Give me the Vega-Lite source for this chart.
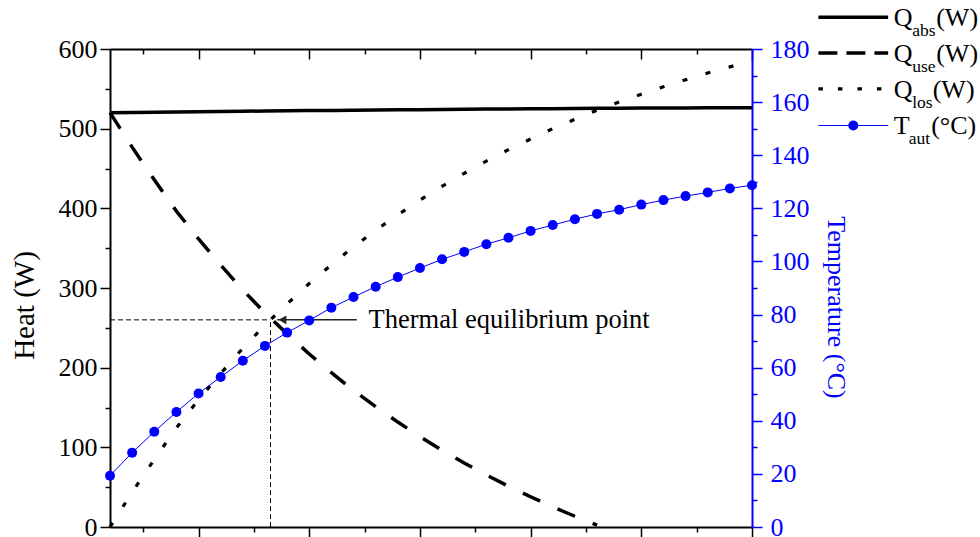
{
  "$schema": "https://vega.github.io/schema/vega-lite/v6.json",
  "width": 642,
  "height": 478,
  "autosize": {"type": "none"},
  "padding": {"left": 110, "top": 49, "right": 228, "bottom": 10},
  "background": "white",
  "config": {
    "font": "Liberation Serif",
    "view": {"stroke": null},
    "axis": {"grid": false}
  },
  "datasets": {
    "model": [
      {"x": 0.2, "Qabs": 520.1, "Quse": 520.1, "Qlos": 0.0, "T": 19.3},
      {"x": 0.4, "Qabs": 520.4, "Quse": 476.8, "Qlos": 43.6, "T": 28.0},
      {"x": 0.6, "Qabs": 520.7, "Quse": 435.9, "Qlos": 84.8, "T": 35.9},
      {"x": 0.8, "Qabs": 521.0, "Quse": 396.5, "Qlos": 124.5, "T": 43.3},
      {"x": 1.0, "Qabs": 521.3, "Quse": 361.5, "Qlos": 159.8, "T": 50.3},
      {"x": 1.2, "Qabs": 521.6, "Quse": 328.9, "Qlos": 192.7, "T": 56.5},
      {"x": 1.4, "Qabs": 521.9, "Quse": 297.5, "Qlos": 224.4, "T": 62.6},
      {"x": 1.6, "Qabs": 522.1, "Quse": 268.7, "Qlos": 253.4, "T": 68.2},
      {"x": 1.8, "Qabs": 522.4, "Quse": 242.4, "Qlos": 280.0, "T": 73.2},
      {"x": 2.0, "Qabs": 522.7, "Quse": 217.1, "Qlos": 305.6, "T": 77.8},
      {"x": 2.2, "Qabs": 522.9, "Quse": 193.7, "Qlos": 329.2, "T": 82.6},
      {"x": 2.4, "Qabs": 523.2, "Quse": 171.5, "Qlos": 351.7, "T": 86.6},
      {"x": 2.6, "Qabs": 523.4, "Quse": 151.0, "Qlos": 372.4, "T": 90.5},
      {"x": 2.8, "Qabs": 523.6, "Quse": 131.7, "Qlos": 391.9, "T": 94.1},
      {"x": 3.0, "Qabs": 523.9, "Quse": 113.5, "Qlos": 410.4, "T": 97.5},
      {"x": 3.2, "Qabs": 524.1, "Quse": 96.4, "Qlos": 427.7, "T": 100.8},
      {"x": 3.4, "Qabs": 524.3, "Quse": 80.3, "Qlos": 444.0, "T": 103.6},
      {"x": 3.6, "Qabs": 524.6, "Quse": 65.3, "Qlos": 459.3, "T": 106.5},
      {"x": 3.8, "Qabs": 524.8, "Quse": 51.2, "Qlos": 473.6, "T": 108.9},
      {"x": 4.0, "Qabs": 525.0, "Quse": 38.0, "Qlos": 487.0, "T": 111.5},
      {"x": 4.2, "Qabs": 525.1, "Quse": 25.1, "Qlos": 500.0, "T": 113.7},
      {"x": 4.4, "Qabs": 525.3, "Quse": 13.5, "Qlos": 511.8, "T": 115.9},
      {"x": 4.6, "Qabs": 525.5, "Quse": 2.4, "Qlos": 523.1, "T": 117.9},
      {"x": 4.8, "Qabs": 525.6, "Quse": null, "Qlos": 533.6, "T": 119.5},
      {"x": 5.0, "Qabs": 525.8, "Quse": null, "Qlos": 543.2, "T": 121.4},
      {"x": 5.2, "Qabs": 525.9, "Quse": null, "Qlos": 552.5, "T": 123.1},
      {"x": 5.4, "Qabs": 526.0, "Quse": null, "Qlos": 561.4, "T": 124.6},
      {"x": 5.6, "Qabs": 526.2, "Quse": null, "Qlos": 569.9, "T": 126.0},
      {"x": 5.8, "Qabs": 526.3, "Quse": null, "Qlos": 577.6, "T": 127.5},
      {"x": 6.0, "Qabs": 526.4, "Quse": null, "Qlos": 585.3, "T": 128.7}
    ]
  },
  "layer": [
    {
      "data": {"name": "model"},
      "mark": {"type": "line", "color": "black", "strokeWidth": 3.5},
      "encoding": {
        "x": {
          "field": "x", "type": "quantitative",
          "scale": {"domain": [0.2, 6], "nice": false, "zero": false},
          "axis": {
            "orient": "bottom", "title": null, "labels": false,
            "values": [0.5, 1, 1.5, 2, 2.5, 3, 3.5, 4, 4.5, 5, 5.5, 6],
            "domainColor": "black", "domainWidth": 2,
            "tickColor": "black", "tickWidth": 1.5,
            "tickSize": {"condition": {"test": "datum.value % 1 === 0", "value": 10}, "value": 5}
          }
        },
        "y": {
          "field": "Qabs", "type": "quantitative",
          "scale": {"domain": [0, 600], "nice": false},
          "axis": {
            "orient": "left",
            "values": [0, 50, 100, 150, 200, 250, 300, 350, 400, 450, 500, 550, 600],
            "labelExpr": "datum.value % 100 === 0 ? datum.label : ''",
            "labelOverlap": false,
            "labelFontSize": 26, "labelColor": "black", "labelPadding": 3,
            "domainColor": "black", "domainWidth": 2,
            "tickColor": "black", "tickWidth": 1.5,
            "tickSize": {"condition": {"test": "datum.value % 100 === 0", "value": 10}, "value": 5},
            "title": "Heat (W)", "titleFontSize": 29, "titleFontWeight": "normal",
            "titleColor": "black", "titlePadding": 19, "titleY": 256
          }
        }
      }
    },
    {
      "data": {"name": "model"},
      "mark": {"type": "line", "color": "black", "strokeWidth": 3.5, "strokeDash": [19, 19]},
      "encoding": {
        "x": {
          "field": "x", "type": "quantitative",
          "axis": {
            "orient": "top", "title": null, "labels": false,
            "values": [0.5, 1, 1.5, 2, 2.5, 3, 3.5, 4, 4.5, 5, 5.5, 6],
            "domainColor": "black", "domainWidth": 2,
            "tickColor": "black", "tickWidth": 1.5,
            "tickSize": {"condition": {"test": "datum.value % 1 === 0", "value": -10}, "value": -5}
          }
        },
        "y": {"field": "Quse", "type": "quantitative", "scale": {"domain": [0, 600], "nice": false}, "axis": null}
      }
    },
    {
      "data": {"name": "model"},
      "mark": {"type": "line", "color": "black", "strokeWidth": 3.2, "strokeDash": [5, 19]},
      "encoding": {
        "x": {"field": "x", "type": "quantitative", "axis": null},
        "y": {"field": "Qlos", "type": "quantitative", "scale": {"domain": [0, 600], "nice": false}, "axis": null}
      }
    },
    {
      "data": {"values": [{}]},
      "mark": {"type": "rule", "color": "black", "strokeWidth": 1, "strokeDash": [5, 3]},
      "encoding": {
        "x": {"datum": 0.2, "type": "quantitative", "axis": null},
        "x2": {"datum": 1.65, "type": "quantitative"},
        "y": {"datum": 260, "type": "quantitative", "scale": {"domain": [0, 600], "nice": false}, "axis": null}
      }
    },
    {
      "data": {"values": [{}]},
      "mark": {"type": "rule", "color": "black", "strokeWidth": 1, "strokeDash": [5, 3]},
      "encoding": {
        "x": {"datum": 1.65, "type": "quantitative", "axis": null},
        "y": {"datum": 0, "type": "quantitative", "scale": {"domain": [0, 600], "nice": false}, "axis": null},
        "y2": {"datum": 260, "type": "quantitative"}
      }
    },
    {
      "data": {"values": [{}]},
      "mark": {"type": "rule", "color": "#222222", "strokeWidth": 1.5},
      "encoding": {
        "x": {"datum": 1.71, "type": "quantitative", "axis": null},
        "x2": {"datum": 2.43, "type": "quantitative"},
        "y": {"datum": 260, "type": "quantitative", "scale": {"domain": [0, 600], "nice": false}, "axis": null}
      }
    },
    {
      "data": {"values": [{}]},
      "mark": {"type": "point", "shape": "triangle-left", "filled": true, "color": "#222222", "size": 80, "opacity": 1, "xOffset": 12},
      "encoding": {
        "x": {"datum": 1.65, "type": "quantitative", "axis": null},
        "y": {"datum": 260, "type": "quantitative", "scale": {"domain": [0, 600], "nice": false}, "axis": null}
      }
    },
    {
      "data": {"values": [{}]},
      "mark": {"type": "text", "text": "Thermal equilibrium point", "align": "left", "baseline": "middle", "dx": 98, "fontSize": 26.5, "color": "black"},
      "encoding": {
        "x": {"datum": 1.65, "type": "quantitative", "axis": null},
        "y": {"datum": 260, "type": "quantitative", "scale": {"domain": [0, 600], "nice": false}, "axis": null}
      }
    },
    {
      "data": {"values": [{}]},
      "mark": {"type": "rule", "color": "black", "strokeWidth": 3.5},
      "encoding": {
        "x": {"datum": 6.6, "type": "quantitative", "axis": null},
        "x2": {"datum": 7.23, "type": "quantitative"},
        "y": {"datum": 640, "type": "quantitative", "scale": {"domain": [0, 600], "nice": false}, "axis": null}
      }
    },
    {
      "data": {"values": [{}]},
      "mark": {"type": "rule", "color": "black", "strokeWidth": 3.5, "strokeDash": [19, 9]},
      "encoding": {
        "x": {"datum": 6.6, "type": "quantitative", "axis": null},
        "x2": {"datum": 7.23, "type": "quantitative"},
        "y": {"datum": 595, "type": "quantitative", "scale": {"domain": [0, 600], "nice": false}, "axis": null}
      }
    },
    {
      "data": {"values": [{}]},
      "mark": {"type": "rule", "color": "black", "strokeWidth": 3.2, "strokeDash": [4.5, 15]},
      "encoding": {
        "x": {"datum": 6.6, "type": "quantitative", "axis": null},
        "x2": {"datum": 7.23, "type": "quantitative"},
        "y": {"datum": 550, "type": "quantitative", "scale": {"domain": [0, 600], "nice": false}, "axis": null}
      }
    },
    {
      "data": {"values": [{}]},
      "mark": {"type": "rule", "color": "#0000ff", "strokeWidth": 1},
      "encoding": {
        "x": {"datum": 6.6, "type": "quantitative", "axis": null},
        "x2": {"datum": 7.23, "type": "quantitative"},
        "y": {"datum": 504, "type": "quantitative", "scale": {"domain": [0, 600], "nice": false}, "axis": null}
      }
    },
    {
      "data": {"values": [{}]},
      "mark": {"type": "point", "shape": "circle", "filled": true, "color": "#0000ff", "size": 100, "opacity": 1},
      "encoding": {
        "x": {"datum": 6.915, "type": "quantitative", "axis": null},
        "y": {"datum": 504, "type": "quantitative", "scale": {"domain": [0, 600], "nice": false}, "axis": null}
      }
    },
    {
      "data": {"values": [{}]},
      "mark": {"type": "text", "text": "Q", "align": "left", "baseline": "alphabetic", "dy": 9, "fontSize": 26, "color": "black"},
      "encoding": {"x": {"datum": 7.28, "type": "quantitative", "axis": null}, "y": {"datum": 640, "type": "quantitative", "scale": {"domain": [0, 600], "nice": false}, "axis": null}}
    },
    {
      "data": {"values": [{}]},
      "mark": {"type": "text", "text": "abs", "align": "left", "baseline": "alphabetic", "dx": 18.5, "dy": 19, "fontSize": 17.5, "color": "black"},
      "encoding": {"x": {"datum": 7.28, "type": "quantitative", "axis": null}, "y": {"datum": 640, "type": "quantitative", "scale": {"domain": [0, 600], "nice": false}, "axis": null}}
    },
    {
      "data": {"values": [{}]},
      "mark": {"type": "text", "text": "(W)", "align": "left", "baseline": "alphabetic", "dx": 42.5, "dy": 9, "fontSize": 26, "color": "black"},
      "encoding": {"x": {"datum": 7.28, "type": "quantitative", "axis": null}, "y": {"datum": 640, "type": "quantitative", "scale": {"domain": [0, 600], "nice": false}, "axis": null}}
    },
    {
      "data": {"values": [{}]},
      "mark": {"type": "text", "text": "Q", "align": "left", "baseline": "alphabetic", "dy": 9, "fontSize": 26, "color": "black"},
      "encoding": {"x": {"datum": 7.28, "type": "quantitative", "axis": null}, "y": {"datum": 595, "type": "quantitative", "scale": {"domain": [0, 600], "nice": false}, "axis": null}}
    },
    {
      "data": {"values": [{}]},
      "mark": {"type": "text", "text": "use", "align": "left", "baseline": "alphabetic", "dx": 18.5, "dy": 19, "fontSize": 17.5, "color": "black"},
      "encoding": {"x": {"datum": 7.28, "type": "quantitative", "axis": null}, "y": {"datum": 595, "type": "quantitative", "scale": {"domain": [0, 600], "nice": false}, "axis": null}}
    },
    {
      "data": {"values": [{}]},
      "mark": {"type": "text", "text": "(W)", "align": "left", "baseline": "alphabetic", "dx": 42.5, "dy": 9, "fontSize": 26, "color": "black"},
      "encoding": {"x": {"datum": 7.28, "type": "quantitative", "axis": null}, "y": {"datum": 595, "type": "quantitative", "scale": {"domain": [0, 600], "nice": false}, "axis": null}}
    },
    {
      "data": {"values": [{}]},
      "mark": {"type": "text", "text": "Q", "align": "left", "baseline": "alphabetic", "dy": 9, "fontSize": 26, "color": "black"},
      "encoding": {"x": {"datum": 7.28, "type": "quantitative", "axis": null}, "y": {"datum": 550, "type": "quantitative", "scale": {"domain": [0, 600], "nice": false}, "axis": null}}
    },
    {
      "data": {"values": [{}]},
      "mark": {"type": "text", "text": "los", "align": "left", "baseline": "alphabetic", "dx": 18.5, "dy": 19, "fontSize": 17.5, "color": "black"},
      "encoding": {"x": {"datum": 7.28, "type": "quantitative", "axis": null}, "y": {"datum": 550, "type": "quantitative", "scale": {"domain": [0, 600], "nice": false}, "axis": null}}
    },
    {
      "data": {"values": [{}]},
      "mark": {"type": "text", "text": "(W)", "align": "left", "baseline": "alphabetic", "dx": 39, "dy": 9, "fontSize": 26, "color": "black"},
      "encoding": {"x": {"datum": 7.28, "type": "quantitative", "axis": null}, "y": {"datum": 550, "type": "quantitative", "scale": {"domain": [0, 600], "nice": false}, "axis": null}}
    },
    {
      "data": {"values": [{}]},
      "mark": {"type": "text", "text": "T", "align": "left", "baseline": "alphabetic", "dy": 9, "fontSize": 26, "color": "black"},
      "encoding": {"x": {"datum": 7.28, "type": "quantitative", "axis": null}, "y": {"datum": 504, "type": "quantitative", "scale": {"domain": [0, 600], "nice": false}, "axis": null}}
    },
    {
      "data": {"values": [{}]},
      "mark": {"type": "text", "text": "aut", "align": "left", "baseline": "alphabetic", "dx": 15, "dy": 19, "fontSize": 17.5, "color": "black"},
      "encoding": {"x": {"datum": 7.28, "type": "quantitative", "axis": null}, "y": {"datum": 504, "type": "quantitative", "scale": {"domain": [0, 600], "nice": false}, "axis": null}}
    },
    {
      "data": {"values": [{}]},
      "mark": {"type": "text", "text": "(°C)", "align": "left", "baseline": "alphabetic", "dx": 37.5, "dy": 9, "fontSize": 26, "color": "black"},
      "encoding": {"x": {"datum": 7.28, "type": "quantitative", "axis": null}, "y": {"datum": 504, "type": "quantitative", "scale": {"domain": [0, 600], "nice": false}, "axis": null}}
    },
    {
      "data": {"name": "model"},
      "mark": {"type": "line", "color": "#0000ff", "strokeWidth": 1},
      "encoding": {
        "x": {"field": "x", "type": "quantitative", "axis": null},
        "y": {
          "field": "T", "type": "quantitative",
          "scale": {"domain": [0, 180], "nice": false},
          "axis": {
            "orient": "right",
            "values": [0, 10, 20, 30, 40, 50, 60, 70, 80, 90, 100, 110, 120, 130, 140, 150, 160, 170, 180],
            "labelExpr": "datum.value % 20 === 0 ? datum.label : ''",
            "labelOverlap": false,
            "labelFontSize": 26, "labelColor": "#0000ff", "labelPadding": 8,
            "domainColor": "#0000ff", "domainWidth": 2,
            "tickColor": "#0000ff", "tickWidth": 1.5,
            "tickSize": {"condition": {"test": "datum.value % 20 === 0", "value": 10}, "value": 5},
            "title": "Temperature (°C)", "titleFontSize": 26, "titleFontWeight": "normal",
            "titleColor": "#0000ff", "titlePadding": 13, "titleY": 258
          }
        }
      }
    },
    {
      "data": {"name": "model"},
      "mark": {"type": "point", "shape": "circle", "filled": true, "color": "#0000ff", "size": 100, "opacity": 1},
      "encoding": {
        "x": {"field": "x", "type": "quantitative", "axis": null},
        "y": {"field": "T", "type": "quantitative", "scale": {"domain": [0, 180], "nice": false}, "axis": null}
      }
    }
  ],
  "resolve": {"scale": {"y": "independent"}, "axis": {"x": "independent"}}
}
